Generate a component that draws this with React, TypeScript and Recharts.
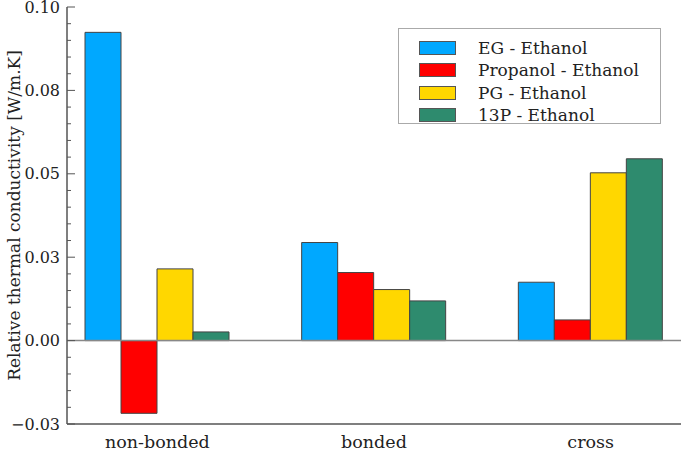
import { BarChart, Bar, XAxis, YAxis, ReferenceLine, Legend } from 'recharts'

const categories = ['non-bonded', 'bonded', 'cross']
const egEthanol = [0.0924, 0.0294, 0.0175]
const propanolEthanol = [-0.0218, 0.0204, 0.0062]
const pgEthanol = [0.0215, 0.0153, 0.0503]
const p13Ethanol = [0.0026, 0.0119, 0.0545]

const seriesKeys = ['eg', 'propanol', 'pg', 'p13']
const seriesNames = ['EG - Ethanol', 'Propanol - Ethanol', 'PG - Ethanol', '13P - Ethanol']
const seriesColors = ['#00a8ff', '#ff0000', '#ffd700', '#2e8b6e']

const majorTicks = [-0.025, 0, 0.025, 0.05, 0.075, 0.1]
const majorLabels = ['\u22120.03', '0.00', '0.03', '0.05', '0.08', '0.10']
const minorTicks = [
  -0.02, -0.015, -0.01, -0.005, 0.005, 0.01, 0.015, 0.02, 0.03, 0.035,
  0.04, 0.045, 0.055, 0.06, 0.065, 0.07, 0.08, 0.085, 0.09, 0.095,
]

const data = categories.map((c, i) => ({
  name: c,
  eg: egEthanol[i],
  propanol: propanolEthanol[i],
  pg: pgEthanol[i],
  p13: p13Ethanol[i],
}))

const W = 685
const H = 455
const LEFT = 67
const RIGHT = 681
const FONT = 'DejaVu Serif'
const FRAME = '#555'

const LeftTick = ({ y, payload }: any) => {
  const idx = majorTicks.indexOf(payload.value)
  const major = idx >= 0
  return (
    <g>
      <line x1={LEFT} x2={LEFT + (major ? 8 : 4)} y1={y} y2={y} stroke={FRAME} strokeWidth={1} />
      {major && (
        <text x={LEFT - 7} y={y} dy="0.35em" textAnchor="end" fontSize={16} fill="#222" fontFamily={FONT}>
          {majorLabels[idx]}
        </text>
      )}
    </g>
  )
}

const RightTick = ({ y, payload }: any) => {
  const major = majorTicks.indexOf(payload.value) >= 0
  return <line x1={RIGHT} x2={RIGHT - (major ? 8 : 4)} y1={y} y2={y} stroke={FRAME} strokeWidth={1} />
}

const YTitle = (props: any) => {
  const vb = props.viewBox || { y: 7, height: 417 }
  const cy = vb.y + vb.height / 2
  return (
    <text
      x={14}
      y={cy}
      transform={`rotate(-90, 14, ${cy})`}
      textAnchor="middle"
      dominantBaseline="central"
      fontSize={17}
      fill="#222"
      fontFamily={FONT}
    >
      Relative thermal conductivity [W/m.K]
    </text>
  )
}

const LegendBox = () => (
  <div
    style={{
      width: 263,
      height: 96,
      border: '1px solid #aaa',
      background: '#fff',
      boxSizing: 'border-box',
      padding: '8px 0 0 20px',
      fontFamily: FONT,
      fontSize: 17,
      color: '#222',
    }}
  >
    {seriesNames.map((n, i) => (
      <div key={n} style={{ display: 'flex', alignItems: 'center', height: 22.3 }}>
        <span
          style={{
            display: 'inline-block',
            width: 37,
            height: 14,
            background: seriesColors[i],
            border: '1px solid #555',
            boxSizing: 'border-box',
            marginRight: 22,
          }}
        />
        <span>{n}</span>
      </div>
    ))}
  </div>
)

export default function App() {
  return (
    <div style={{ width: W, height: H }}>
      <style>{'body{margin:0}'}</style>
      <BarChart
        width={W}
        height={H}
        data={data}
        margin={{ top: 7, right: W - RIGHT, bottom: 0, left: 0 }}
        barGap={0}
        barSize={36}
        style={{ fontFamily: FONT }}
      >
        <XAxis
          dataKey="name"
          height={H - 424}
          padding={{ left: -18, right: -18 }}
          tickLine={false}
          tickSize={0}
          tickMargin={12}
          axisLine={{ stroke: FRAME, strokeWidth: 1.5 }}
          tick={{ fontSize: 17.5, fill: '#222', fontFamily: FONT }}
        />
        <XAxis
          xAxisId="top"
          dataKey="name"
          orientation="top"
          height={0}
          tick={false}
          tickLine={false}
          axisLine={{ stroke: FRAME, strokeWidth: 1.5 }}
        />
        <YAxis
          width={LEFT}
          domain={[-0.025, 0.1]}
          type="number"
          ticks={[...majorTicks, ...minorTicks]}
          interval={0}
          allowDataOverflow
          tickLine={false}
          tickSize={0}
          tick={<LeftTick />}
          axisLine={{ stroke: FRAME, strokeWidth: 1.5 }}
          label={<YTitle />}
        />
        <YAxis
          yAxisId="right"
          orientation="right"
          width={0}
          domain={[-0.025, 0.1]}
          type="number"
          ticks={[...majorTicks, ...minorTicks]}
          interval={0}
          allowDataOverflow
          tickLine={false}
          tickSize={0}
          tick={<RightTick />}
          axisLine={{ stroke: FRAME, strokeWidth: 1.5 }}
        />
        {seriesKeys.map((k, i) => (
          <Bar
            key={k}
            dataKey={k}
            name={seriesNames[i]}
            fill={seriesColors[i]}
            stroke="#444"
            strokeWidth={1}
            isAnimationActive={false}
          />
        ))}
        <ReferenceLine y={0} stroke="#888" strokeWidth={1.5} />
        <Legend
          layout="horizontal"
          verticalAlign="middle"
          align="center"
          content={<LegendBox />}
          wrapperStyle={{ position: 'absolute', top: 28, left: 398, width: 263 }}
        />
      </BarChart>
    </div>
  )
}
